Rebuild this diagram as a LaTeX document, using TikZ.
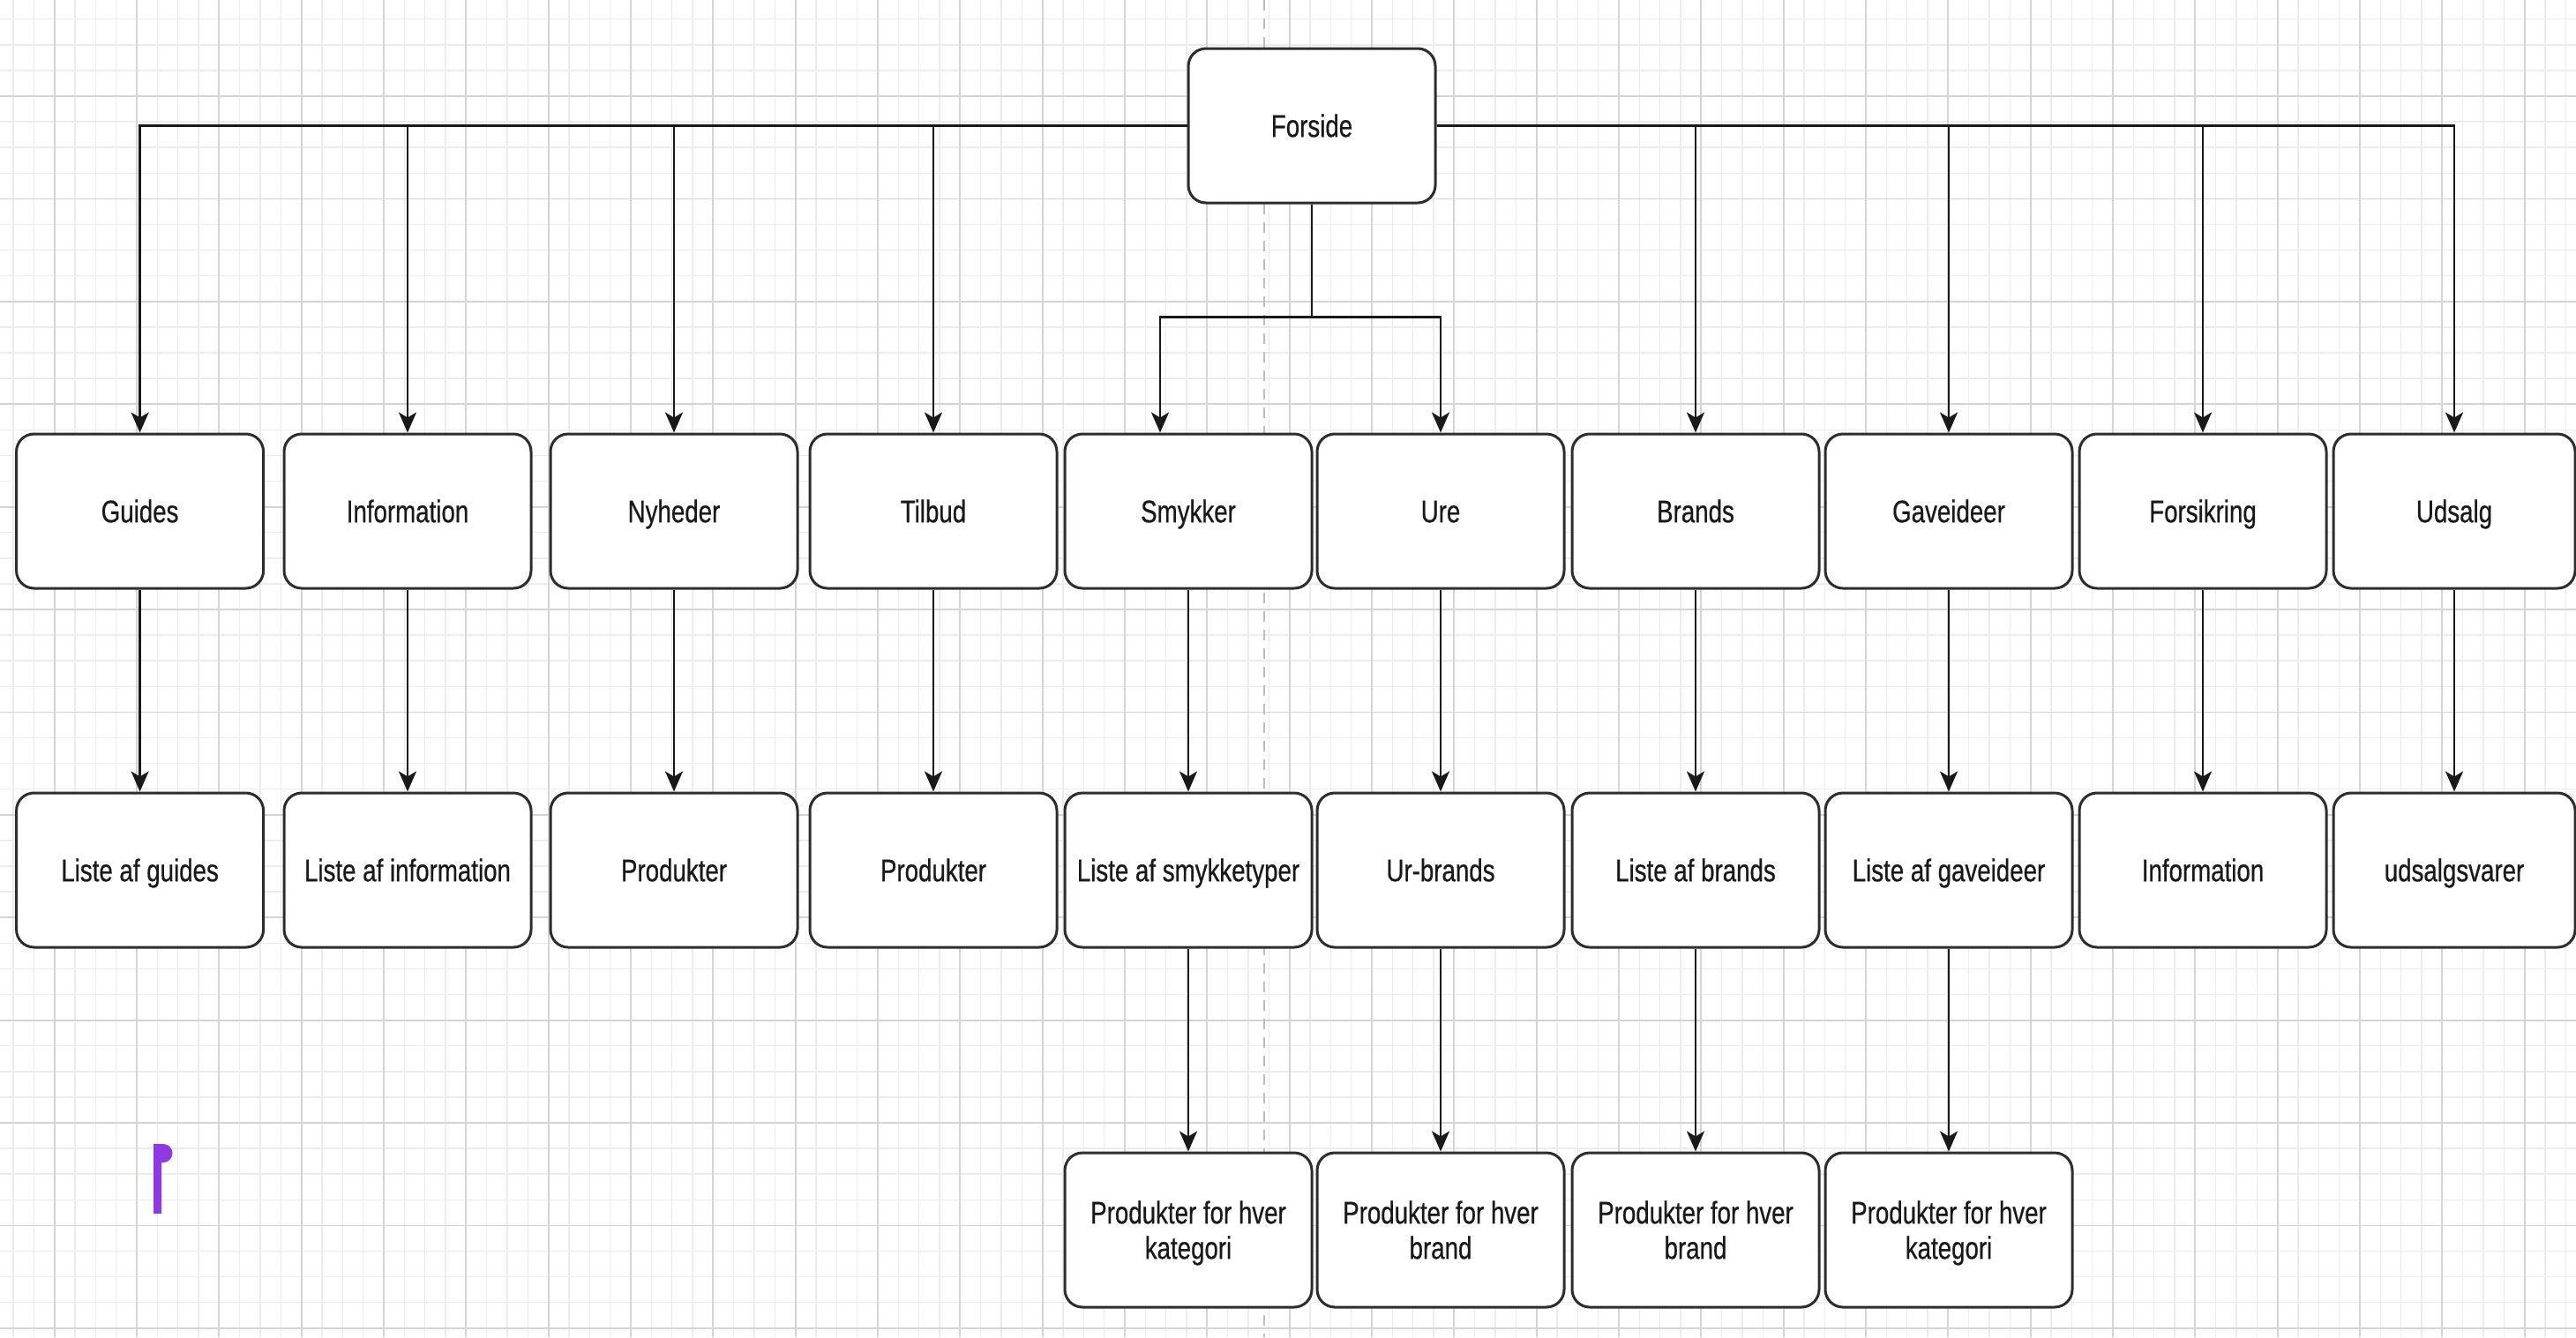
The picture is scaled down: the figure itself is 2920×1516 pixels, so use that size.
\documentclass[tikz,border=0pt]{standalone}
\usepackage{fontspec}
\setmainfont{Liberation Sans}[FakeStretch=0.78, FakeBold=0.5]
\usetikzlibrary{arrows.meta}
\definecolor{boxline}{RGB}{45,45,45}
\definecolor{gridminor}{RGB}{236,236,236}
\definecolor{gridmajor}{RGB}{212,212,212}
\definecolor{pagebreak}{RGB}{190,190,190}
\definecolor{caret}{RGB}{145,56,230}
\tikzset{
  pagebox/.style={draw=boxline, line width=3pt, rounded corners=20pt, fill=white,
    minimum width=280pt, minimum height=175pt, inner sep=0pt, align=center,
    text=black!90, font=\fontsize{35.5}{40}\selectfont,
    text height=25.4pt, text depth=0pt},
  twoline/.style={text height=65.4pt, text depth=0pt},
  link/.style={draw=black!90, line width=2.7pt, -{Stealth[length=23pt,width=20pt,inset=6pt]}},
  gminor/.style={draw=gridminor, line width=1.5pt},
  gmajor/.style={draw=gridmajor, line width=1.8pt}
}
\begin{document}
\begin{tikzpicture}[x=1pt, y=-1pt]
\useasboundingbox (0,0) rectangle (2920,1516);
\fill[white] (0,0) rectangle (2920,1516);
% grid
\foreach \i in {-3,...,124} {
  \draw[gminor] (61.667+23.333*\i,0) -- (61.667+23.333*\i,1516);
}
\foreach \j in {-4,...,48} {
  \draw[gminor] (0,109+29.1*\j) -- (2920,109+29.1*\j);
}
\foreach \i in {0,...,31} {
  \draw[gmajor] (61.667+93.333*\i,0) -- (61.667+93.333*\i,1516);
}
\foreach \j in {-1,...,12} {
  \draw[gmajor] (0,109+116.4*\j) -- (2920,109+116.4*\j);
}
% page break
\draw[pagebreak, line width=2pt, dash pattern=on 12pt off 9pt] (1433,0) -- (1433,1516);

% nodes
\node[pagebox] (forside) at (1487,142.5) {Forside};

\node[pagebox] (guides)     at (158.6,579.5) {Guides};
\node[pagebox] (info)       at (462,579.5)   {Information};
\node[pagebox] (nyheder)    at (764,579.5)   {Nyheder};
\node[pagebox] (tilbud)     at (1058,579.5)  {Tilbud};
\node[pagebox] (smykker)    at (1347,579.5)  {Smykker};
\node[pagebox] (ure)        at (1633,579.5)  {Ure};
\node[pagebox] (brands)     at (1922,579.5)  {Brands};
\node[pagebox] (gaveideer)  at (2209,579.5)  {Gaveideer};
\node[pagebox] (forsikring) at (2497,579.5)  {Forsikring};
\node[pagebox, minimum width=274pt] (udsalg) at (2782,579.5) {Udsalg};

\node[pagebox] (lguides)     at (158.6,986.5) {Liste af guides};
\node[pagebox] (linfo)       at (462,986.5)   {Liste af information};
\node[pagebox] (lnyheder)    at (764,986.5)   {Produkter};
\node[pagebox] (ltilbud)     at (1058,986.5)  {Produkter};
\node[pagebox] (lsmykker)    at (1347,986.5)  {Liste af smykketyper};
\node[pagebox] (lure)        at (1633,986.5)  {Ur-brands};
\node[pagebox] (lbrands)     at (1922,986.5)  {Liste af brands};
\node[pagebox] (lgaveideer)  at (2209,986.5)  {Liste af gaveideer};
\node[pagebox] (lforsikring) at (2497,986.5)  {Information};
\node[pagebox, minimum width=274pt] (ludsalg) at (2782,986.5) {udsalgsvarer};

\node[pagebox, twoline] (psmykker)   at (1347,1394.5) {Produkter for hver\\kategori};
\node[pagebox, twoline] (pure)       at (1633,1394.5) {Produkter for hver\\brand};
\node[pagebox, twoline] (pbrands)    at (1922,1394.5) {Produkter for hver\\brand};
\node[pagebox, twoline] (pgaveideer) at (2209,1394.5) {Produkter for hver\\kategori};

% connectors from Forside
\foreach \t in {guides,info,nyheder,tilbud} {
  \draw[link] (forside.west) -| (\t.north);
}
\foreach \t in {brands,gaveideer,forsikring,udsalg} {
  \draw[link] (forside.east) -| (\t.north);
}
\draw[link] (forside.south) |- ([xshift=-32pt,yshift=131pt]smykker.north) -- ([xshift=-32pt]smykker.north);
\draw[link] (forside.south) |- ([yshift=131pt]ure.north) -- (ure.north);

% second level
\foreach \a/\b in {guides/lguides,info/linfo,nyheder/lnyheder,tilbud/ltilbud,smykker/lsmykker,ure/lure,brands/lbrands,gaveideer/lgaveideer,forsikring/lforsikring,udsalg/ludsalg} {
  \draw[link] (\a.south) -- (\b.north);
}
% third level
\foreach \a/\b in {lsmykker/psmykker,lure/pure,lbrands/pbrands,lgaveideer/pgaveideer} {
  \draw[link] (\a.south) -- (\b.north);
}

% purple caret mark
\fill[caret] (174,1376) -- (174,1297) -- (185,1297)
  arc[start angle=-90, end angle=90, radius=10.5] -- (183,1318) -- (183,1376) -- cycle;
\end{tikzpicture}
\end{document}
